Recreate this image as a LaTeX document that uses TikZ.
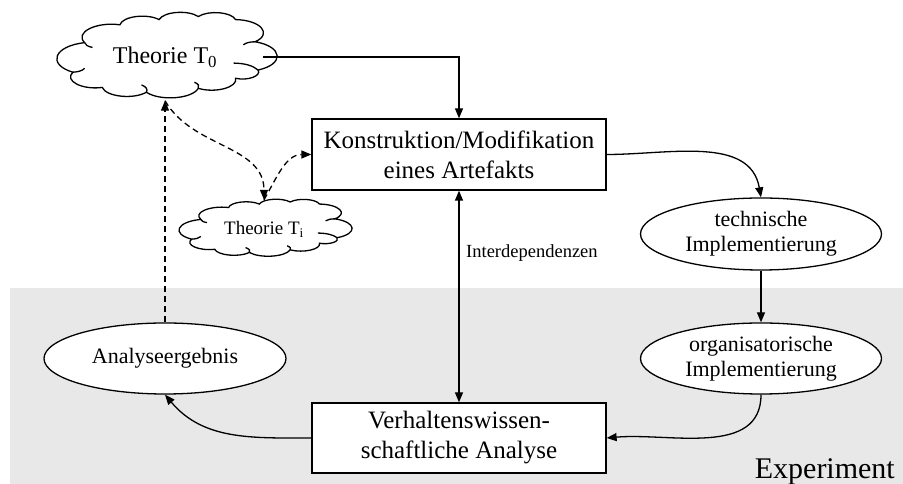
\documentclass[tikz,border=0pt]{standalone}
\usepackage{fontspec}
\setmainfont{Liberation Serif}
\usetikzlibrary{shapes.geometric,arrows.meta}
\definecolor{bandgray}{RGB}{232,232,232}
\begin{document}
\begin{tikzpicture}[x=1pt,y=1pt,
  box/.style={draw, line width=1.3pt, fill=white, minimum width=294pt, minimum height=71pt, inner sep=0pt, align=center, font=\fontsize{25}{30}\selectfont},
  ell/.style={ellipse, draw, line width=1.3pt, fill=white, minimum width=241pt, minimum height=72pt, inner sep=0pt, align=center, font=\fontsize{22}{25}\selectfont},
  cldnode/.style={ellipse, inner sep=0pt},
  conn/.style={line width=1.3pt, -{Triangle[length=10pt,width=8pt]}},
  dconn/.style={conn, dash pattern=on 6pt off 4pt},
  cloudpic/.pic={
    \draw[line width=1.3pt, fill=white, bend left=66, looseness=1.2]
      (-0.82,0.33) to (-0.46,0.74) to (-0.06,0.86) to (0.34,0.93) to (0.72,0.86)
      to (0.92,0.35) to (0.95,-0.30) to (0.72,-0.49) to (0.34,-0.72)
      to (-0.19,-0.81) to (-0.64,-0.70) to (-0.94,-0.35) to (-0.82,0.33);
    \draw[line width=1.3pt, bend right=30]
      (0.92,0.35) to (0.80,0.28)
      (0.95,-0.30) to (0.70,-0.14)
      (0.34,-0.72) to (0.30,-0.58)
      (-0.19,-0.81) to (-0.24,-0.64)
      (-0.94,-0.35) to (-0.82,-0.26)
      (-0.82,0.33) to (-0.74,0.22);
  }
]
\useasboundingbox (0,0) rectangle (903,484);
\fill[bandgray] (10,0) rectangle (903,196);

\pic[xscale=98, yscale=43.5] at (165,427) {cloudpic};
\pic[xscale=77, yscale=29] at (264,255) {cloudpic};
\node[cldnode, minimum width=196pt, minimum height=87pt, font=\fontsize{24}{27}\selectfont] (T0) at (165,427) {Theorie T\textsubscript{0}};
\node[cldnode, minimum width=154pt, minimum height=58pt, font=\fontsize{19}{21}\selectfont] (Ti) at (264,255) {Theorie T\textsubscript{i}};
\node[box] (K) at (459,329.5) {Konstruktion/Modifikation\\eines Artefakts};
\node[box, minimum height=70pt] (V) at (459,46) {Verhaltenswissen-\\schaftliche Analyse};
\node[ell] (tech) at (761,250) {technische\\Implementierung};
\node[ell, minimum height=71pt] (org) at (761,125.5) {organisatorische\\Implementierung};
\node[ell, minimum width=242pt, minimum height=71pt] (ana) at (165,125.5) {Analyseergebnis};
\node[anchor=west, inner sep=0pt, font=\fontsize{18.5}{20}\selectfont] (inter) at (466,231) {Interdependenzen};
\node[anchor=base east, inner sep=0pt, font=\fontsize{30}{34}\selectfont] (exp) at (895,5) {Experiment};

\draw[conn] (T0.east) -| (K.north);
\draw[conn, {Triangle[length=10pt,width=8pt]}-{Triangle[length=10pt,width=8pt]}] (V.north) -- (K.south);
\draw[conn] (K.east) to[out=0,in=100] (tech.north);
\draw[conn] (tech.south) -- (org.north);
\draw[conn] (org.south) to[out=-90,in=5] (V.east);
\draw[conn] (V.west) to[out=180,in=-50] (ana.south);
\draw[dconn] (ana.north) -- (T0.south);
\draw[dconn] (T0.south) to[out=-60,in=90] (Ti.north);
\draw[dconn] (Ti.north) to[out=60,in=180] (K.west);
\end{tikzpicture}
\end{document}
